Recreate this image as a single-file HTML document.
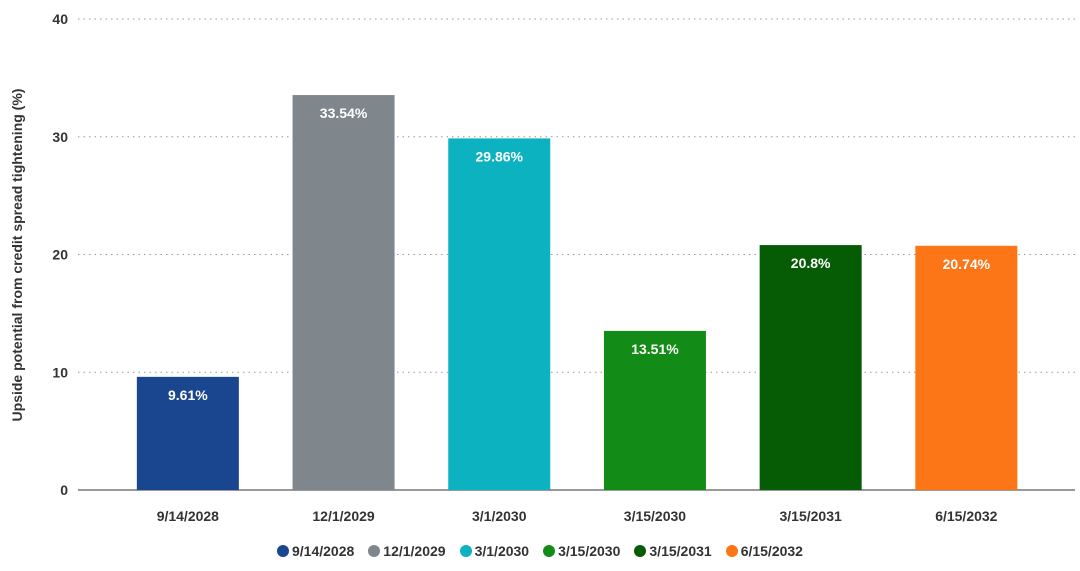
<!DOCTYPE html>
<html><head><meta charset="utf-8"><style>
body{margin:0;width:1080px;height:571px;background:#fff;font-family:"Liberation Sans",sans-serif;overflow:hidden}
svg{position:absolute;left:0;top:0}
#legend{position:absolute;top:543px;left:0;width:1080px;display:flex;justify-content:center;gap:14px;font-size:14px;font-weight:bold;color:#333}
.li{display:flex;align-items:center;gap:3px}
.dot{width:12px;height:12px;border-radius:50%;display:inline-block}
</style></head><body>
<svg id="chart" width="1080" height="571"></svg>
<div id="legend"></div>
<script>
const categories=["9/14/2028","12/1/2029","3/1/2030","3/15/2030","3/15/2031","6/15/2032"];
const values=[9.61,33.54,29.86,13.51,20.8,20.74];
const labels=["9.61%","33.54%","29.86%","13.51%","20.8%","20.74%"];
const colors=["#19468e","#7f868c","#0cb2c0","#138c17","#055c05","#fc7516"];
const yTicks=[0,10,20,30,40];
const NS="http://www.w3.org/2000/svg";
const svg=document.getElementById('chart');
const y=v=>490-v*11.775;
const band=155.7,x0=110;
const xc=i=>x0+band*(i+0.5);
function mk(t,a){const e=document.createElementNS(NS,t);for(const k in a)e.setAttribute(k,a[k]);svg.appendChild(e);return e;}
yTicks.forEach(t=>{
  if(t>0){const g=mk('line',{x1:78,x2:1075,y1:y(t),y2:y(t),stroke:'#999','stroke-dasharray':'1.5,4','stroke-width':1});
  
  }
  const l=mk('text',{x:68,y:y(t)+5,'text-anchor':'end','font-size':14,'font-weight':'bold',fill:'#333'});
  l.textContent=t;
  
  
});
const ax=mk('line',{x1:78,x2:1075,y1:490,y2:490,stroke:'#333','stroke-width':1});


const yt=mk('text',{x:0,y:0,transform:'translate(22,255) rotate(-90)','text-anchor':'middle','font-size':14,'font-weight':'bold',fill:'#333'});
yt.textContent='Upside potential from credit spread tightening (%)';


const lg=document.getElementById('legend');
categories.forEach((c,i)=>{
  const r=mk('rect',{x:xc(i)-51,y:y(values[i]),width:102,height:490-y(values[i]),fill:colors[i]});
  
  
  const v=mk('text',{x:xc(i),y:y(values[i])+23,'text-anchor':'middle','font-size':14,'font-weight':'bold',fill:'#fff'});
  v.textContent=labels[i];
  
  
  const t=mk('text',{x:xc(i),y:521,'text-anchor':'middle','font-size':14,'font-weight':'bold',fill:'#333'});
  t.textContent=c;
  
  
  const li=document.createElement('div');li.className='li';
  
  
  li.innerHTML='<span class="dot" style="background:'+colors[i]+'"></span><span>'+c+'</span>';
  lg.appendChild(li);
});
</script>
</body></html>
